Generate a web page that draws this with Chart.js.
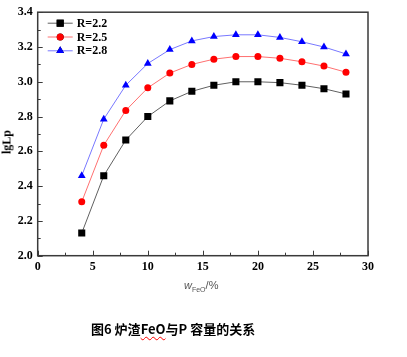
<!DOCTYPE html>
<html>
<head>
<meta charset="utf-8">
<script src="https://cdn.jsdelivr.net/npm/chart.js@4/dist/chart.umd.min.js"></script>
<style>
  html, body { margin: 0; padding: 0; background: #fff; }
  #wrap { position: relative; width: 407px; height: 357px; overflow: hidden; }
  #c { position: absolute; left: 0; top: 0; }
  #ytitle { position: absolute; left: 7px; top: 142px; transform: translate(-50%, -50%) rotate(-90deg);
    font: bold 12px "Liberation Serif", "Times New Roman", serif; color: #000; white-space: nowrap; }
  #xtitle { position: absolute; left: 184px; top: 279px; font: 11px "Liberation Sans", Arial, sans-serif;
    color: #555; white-space: nowrap; }
  #xtitle sub { font-size: 7px; vertical-align: -3px; }
  #caption { position: absolute; left: 91px; top: 319px; font: bold 13px "Noto Sans CJK SC", sans-serif;
    color: #000; white-space: nowrap; }
  #caption .fe { text-decoration: underline wavy red; text-decoration-thickness: 1px; text-underline-offset: 2px; }
</style>
</head>
<body>
<div id="wrap">
  <canvas id="c" width="407" height="300"></canvas>
  <div id="ytitle">lgLp</div>
  <div id="xtitle"><i>w</i><sub>FeO</sub>/%</div>
  <div id="caption">图6 炉渣<span class="fe">FeO</span>与P 容量的关系</div>
</div>
<script>
const xValues = [4, 6, 8, 10, 12, 14, 16, 18, 20, 22, 24, 26, 28];
const seriesR22 = [2.13, 2.46, 2.665, 2.80, 2.89, 2.945, 2.98, 3.00, 3.00, 2.995, 2.98, 2.96, 2.93];
const seriesR25 = [2.31, 2.635, 2.835, 2.965, 3.05, 3.10, 3.13, 3.145, 3.145, 3.135, 3.115, 3.09, 3.055];
const seriesR28 = [2.46, 2.785, 2.98, 3.105, 3.185, 3.235, 3.26, 3.27, 3.27, 3.255, 3.23, 3.20, 3.16];
const seriesLabels = ['R=2.2', 'R=2.5', 'R=2.8'];

function toPoints(ys) { return xValues.map((x, i) => ({ x: x, y: ys[i] })); }

const tickFont = { family: '"Liberation Serif", "Times New Roman", serif', size: 12, weight: 'bold' };

const framePlugin = {
  id: 'frame',
  afterDraw(chart) {
    const ctx = chart.ctx, a = chart.chartArea;
    const xs = chart.scales.x, ys = chart.scales.y;
    ctx.save();
    ctx.strokeStyle = '#3a3a3a';
    ctx.lineWidth = 1.5;
    ctx.strokeRect(a.left, a.top, a.right - a.left, a.bottom - a.top);
    ctx.lineWidth = 1;
    ctx.beginPath();
    for (let v = 0; v <= 30.001; v += 2.5) {
      const px = Math.round(xs.getPixelForValue(v)) + 0.5;
      const len = (Math.abs(v / 5 - Math.round(v / 5)) < 1e-6) ? 5 : 3;
      ctx.moveTo(px, a.bottom);
      ctx.lineTo(px, a.bottom - len);
    }
    for (let k = 0; k <= 14; k++) {
      const v = 2.0 + k * 0.1;
      const py = Math.round(ys.getPixelForValue(v)) + 0.5;
      const len = (k % 2 === 0) ? 5 : 3;
      ctx.moveTo(a.left, py);
      ctx.lineTo(a.left + len, py);
    }
    ctx.stroke();

    // legend inside plot
    const lx = a.left + 10, ly = a.top + 11;
    chart.data.datasets.forEach((ds, i) => {
      const y = ly + i * 13.8;
      ctx.strokeStyle = ds.borderColor;
      ctx.lineWidth = 1;
      ctx.beginPath();
      ctx.moveTo(lx, y);
      ctx.lineTo(lx + 25, y);
      ctx.stroke();
      Chart.helpers.drawPoint(ctx, {
        pointStyle: ds.pointStyle, radius: ds.pointRadius, rotation: 0, borderWidth: 0
      }, lx + 12.5, y);
      ctx.fillStyle = ds.pointBackgroundColor;
      ctx.fill();
      ctx.fillStyle = '#000';
      ctx.font = 'bold 12px "Liberation Serif", "Times New Roman", serif';
      ctx.textBaseline = 'middle';
      ctx.textAlign = 'left';
      ctx.fillText(ds.label, lx + 29, y + 0.5);
    });
    ctx.restore();
  }
};

new Chart(document.getElementById('c'), {
  type: 'line',
  data: {
    datasets: [
      { label: seriesLabels[0], data: toPoints(seriesR22), borderColor: '#606060', borderWidth: 1,
        pointStyle: 'rect', pointRadius: 5, pointBackgroundColor: '#000', pointBorderColor: '#000', pointBorderWidth: 0, tension: 0 },
      { label: seriesLabels[1], data: toPoints(seriesR25), borderColor: '#ff7070', borderWidth: 1,
        pointStyle: 'circle', pointRadius: 3.5, pointBackgroundColor: '#ff0000', pointBorderColor: '#ff0000', pointBorderWidth: 0, tension: 0 },
      { label: seriesLabels[2], data: toPoints(seriesR28), borderColor: '#7878ff', borderWidth: 1,
        pointStyle: 'triangle', pointRadius: 4.5, pointBackgroundColor: '#0000ff', pointBorderColor: '#0000ff', pointBorderWidth: 0, tension: 0 }
    ]
  },
  options: {
    responsive: false,
    animation: false,
    devicePixelRatio: 1,
    layout: { padding: { left: 0, right: 39, top: 11, bottom: 0 } },
    plugins: { legend: { display: false }, tooltip: { enabled: false } },
    scales: {
      x: {
        type: 'linear', min: 0, max: 30,
        ticks: { stepSize: 5, font: tickFont, color: '#000', padding: 4, maxRotation: 0 },
        grid: { display: false, drawTicks: false },
        border: { display: false },
        afterFit(s) { s.height = 44.3; }
      },
      y: {
        type: 'linear', min: 2.0, max: 3.4,
        ticks: { stepSize: 0.2, font: tickFont, color: '#000', padding: 5, callback: v => v.toFixed(1) },
        grid: { display: false, drawTicks: false },
        border: { display: false },
        afterFit(s) { s.width = 37.7; }
      }
    }
  },
  plugins: [framePlugin]
});
</script>
</body>
</html>
